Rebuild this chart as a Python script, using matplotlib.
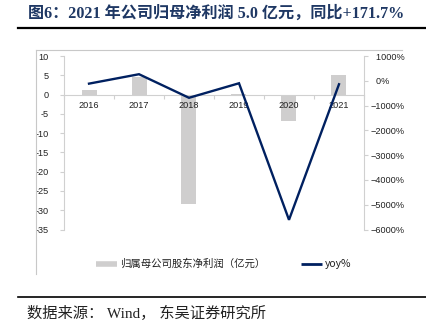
import matplotlib
matplotlib.use("Agg")
import matplotlib.pyplot as plt
from matplotlib.lines import Line2D
import numpy as np

plt.rcParams['font.family'] = ['Liberation Sans', 'Noto Sans CJK SC', 'DejaVu Sans']
plt.rcParams['axes.unicode_minus'] = True

years = ['2016', '2017', '2018', '2019', '2020', '2021']
profit = [1.3, 4.6, -28.5, 0.1, -6.9, 5.0]          # 亿元
yoy = [-115, 265, -686, -100, -5610, -140]           # %

left_ticks = list(range(10, -36, -5))
right_ticks = list(range(1000, -6001, -1000))

GRAY_BAR = '#CFCECE'
NAVY = '#002060'
AXIS_GRAY = '#D0D0D0'

fig = plt.figure(figsize=(4.26, 3.33), dpi=100)

# header and footer rules
fig.add_artist(Line2D([18 / 426, 1], [1 - 27.7 / 333] * 2, color='black', lw=1.6))
fig.add_artist(Line2D([18 / 426, 1], [1 - 297 / 333] * 2, color='black', lw=1.2))
# light frame around the chart
fig.add_artist(Line2D([35.5 / 426, 402 / 426], [1 - 50 / 333] * 2, color='#C8C8C8', lw=0.8))
fig.add_artist(Line2D([35.5 / 426] * 2, [1 - 50 / 333, 1 - 274 / 333], color='#C8C8C8', lw=0.8))

fig.text(28 / 426, 1 - 14 / 333, '图6：2021 年公司归母净利润 5.0 亿元，同比+171.7%',
         family=['Liberation Serif', 'Noto Sans CJK SC'], fontweight='bold',
         fontsize=11.6, color='#1F3864', ha='left', va='center')
fig.text(27 / 426, 1 - 313 / 333, '数据来源： Wind， 东吴证券研究所',
         family=['Liberation Serif', 'Noto Sans CJK SC'], fontsize=11,
         color='#222222', ha='left', va='center')

ax = fig.add_axes([64 / 426, 1 - 229.5 / 333, 300 / 426, 173.5 / 333])
x = np.arange(len(years))
ax.bar(x, profit, width=0.3, color=GRAY_BAR, zorder=2)
ax.set_axisbelow(False)
ax.set_xlim(-0.5, len(years) - 0.5)
ax.set_ylim(-35, 10)
ax.set_yticks(left_ticks)
ax.set_yticklabels([str(t) for t in left_ticks])

for s in ['top', 'right']:
    ax.spines[s].set_visible(False)
ax.spines['left'].set_color(AXIS_GRAY)
ax.spines['left'].set_linewidth(0.8)
ax.spines['bottom'].set_position(('data', 0))
ax.spines['bottom'].set_color(AXIS_GRAY)
ax.spines['bottom'].set_linewidth(0.8)

ax.set_xticks(x)
ax.set_xticklabels(years)
ax.set_xticks(np.arange(len(years) + 1) - 0.5, minor=True)
ax.tick_params(axis='x', which='major', length=0, pad=5, labelsize=6.6, labelcolor='#222222')
ax.tick_params(axis='x', which='minor', length=3, color=AXIS_GRAY, width=0.8)
ax.tick_params(axis='y', length=3, color=AXIS_GRAY, width=0.8, labelsize=6.6,
               labelcolor='#222222', pad=8)

ax2 = ax.twinx()
ax2.plot(x, yoy, color=NAVY, lw=1.7, zorder=3, solid_joinstyle='miter')
ax2.set_ylim(-6000, 1000)
ax2.set_yticks(right_ticks)
ax2.set_yticklabels([('  %d%%' % t) if t >= 0 else ('\u2212%d%%' % -t) for t in right_ticks])
for s in ['top', 'left', 'bottom']:
    ax2.spines[s].set_visible(False)
ax2.spines['right'].set_color(AXIS_GRAY)
ax2.spines['right'].set_linewidth(0.8)
ax2.tick_params(axis='y', length=3, color=AXIS_GRAY, width=0.8, labelsize=6.6,
                labelcolor='#222222', pad=2)

handles = [Line2D([], [], color=GRAY_BAR, lw=4, solid_capstyle='butt'),
           Line2D([], [], color=NAVY, lw=2, solid_capstyle='butt')]
fig.legend(handles, ['归属母公司股东净利润（亿元）', 'yoy%'], loc='center',
           bbox_to_anchor=(224 / 426, 1 - 264 / 333), ncol=2, frameon=False,
           prop={'family': ['Noto Sans CJK SC', 'Liberation Sans'], 'size': 7.5},
           handlelength=2.0, handletextpad=0.3, columnspacing=3.4, labelcolor='#222222')

fig.savefig('out.png', dpi=100)
